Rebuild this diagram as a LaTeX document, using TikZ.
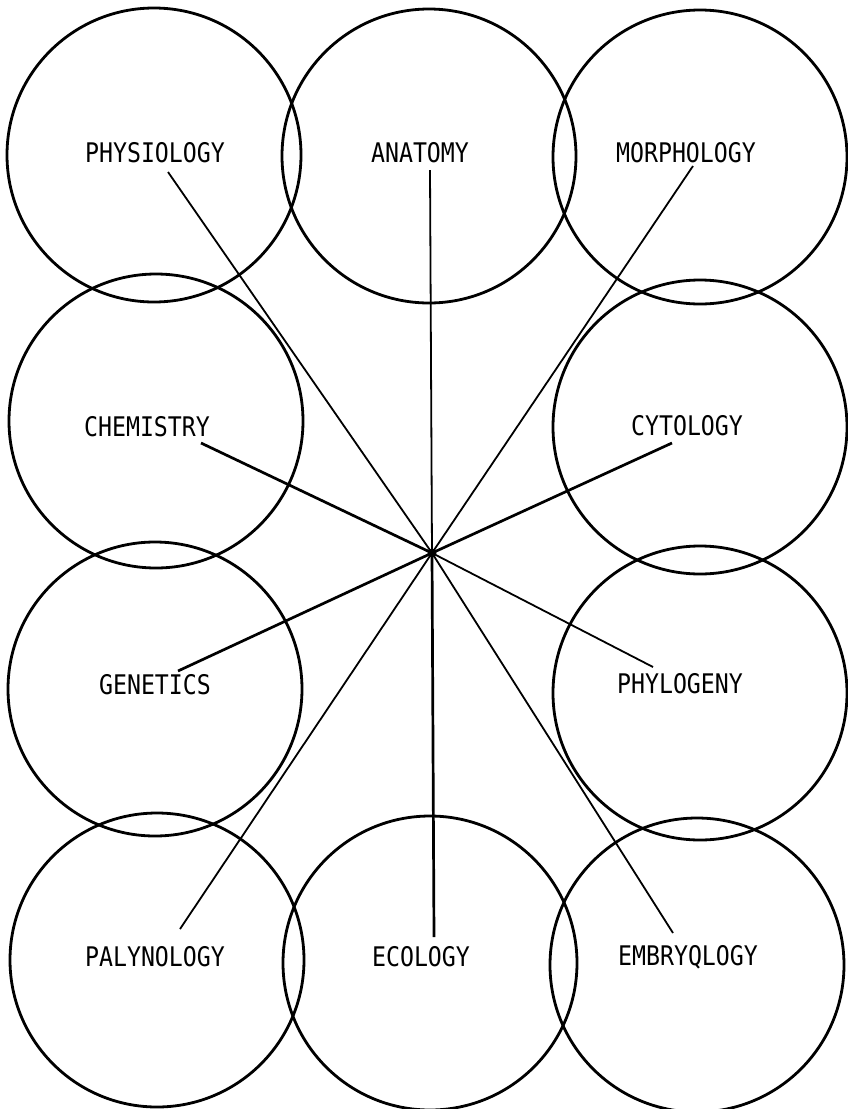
\documentclass[tikz,border=0pt]{standalone}
\usepackage{fontspec}
\newfontfamily\labfont[FakeStretch=0.86]{DejaVu Sans Mono}
\begin{document}
\begin{tikzpicture}[x=1pt,y=-1pt,
  ring/.style={draw,circle,line width=2.8pt,minimum size=294pt,inner sep=0pt},
  lab/.style={font=\labfont\fontsize{27}{27}\selectfont,inner sep=0pt,anchor=center},
  thinray/.style={line width=1.8pt},
  thickray/.style={line width=2.7pt}]
\useasboundingbox (0,0) rectangle (848,1109);
% circles
\node[ring] (cphys) at (154,155) {};
\node[ring] (canat) at (429,156) {};
\node[ring] (cmorph) at (700,157) {};
\node[ring] (cchem) at (156,421) {};
\node[ring] (ccyto) at (700,427) {};
\node[ring] (cgen) at (155,689) {};
\node[ring] (cphyl) at (700,693) {};
\node[ring] (cpaly) at (157,960) {};
\node[ring] (ceco) at (430,963) {};
\node[ring] (cemb) at (697,965) {};
% labels
\node[lab] (phys) at (155,153) {PHYSIOLOGY};
\node[lab] (anat) at (420,153) {ANATOMY};
\node[lab] (morph) at (686,153) {MORPHOLOGY};
\node[lab] (chem) at (147,427) {CHEMISTRY};
\node[lab] (cyto) at (687,426) {CYTOLOGY};
\node[lab] (gen) at (155,685) {GENETICS};
\node[lab] (phyl) at (680,684) {PHYLOGENY};
\node[lab] (paly) at (155,957) {PALYNOLOGY};
\node[lab] (eco) at (421,957) {ECOLOGY};
\node[lab] (emb) at (688,957) {EMBRYQLOGY};
% hub
\node[fill,circle,inner sep=0pt,minimum size=9pt] (hub) at (432,553) {};
% ray ends
\coordinate (ephys) at (168,172);
\coordinate (eanat) at (430,170);
\coordinate (emorph) at (693,166);
\coordinate (echem) at (201,443);
\coordinate (ecyto) at (672,443);
\coordinate (egen) at (178,671);
\coordinate (ephyl) at (653,667);
\coordinate (epaly) at (180,929);
\coordinate (eeco) at (434,937);
\coordinate (eemb) at (673,933);
% rays
\draw[thinray] (hub.center) -- (ephys);
\draw[thinray] (hub.center) -- (eanat);
\draw[thinray] (hub.center) -- (emorph);
\draw[thickray] (hub.center) -- (echem);
\draw[thickray] (hub.center) -- (ecyto);
\draw[thickray] (hub.center) -- (egen);
\draw[thinray] (hub.center) -- (ephyl);
\draw[thinray] (hub.center) -- (epaly);
\draw[thickray] (hub.center) -- (eeco);
\draw[thinray] (hub.center) -- (eemb);
\end{tikzpicture}
\end{document}
